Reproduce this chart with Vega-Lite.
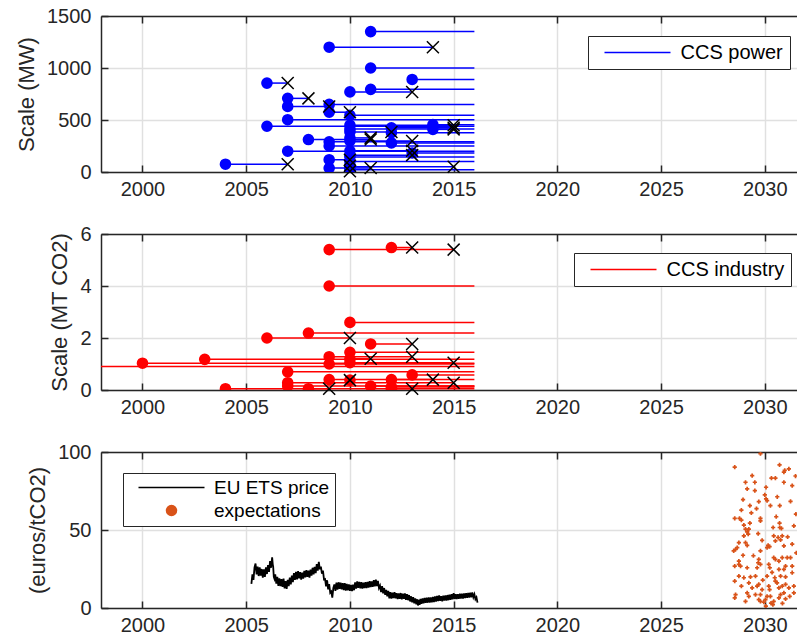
{
  "$schema": "https://vega.github.io/schema/vega-lite/v6.json",
  "padding": {"left": 15, "top": 6, "right": 0, "bottom": 0},
  "bounds": "flush",
  "spacing": 62,
  "datasets": {
    "power": [
      {"start":2004,"end":2007,"v":75,"ended":true},
      {"start":2006,"end":2007,"v":855,"ended":true},
      {"start":2006,"end":2016,"v":440,"ended":false},
      {"start":2007,"end":2008,"v":708,"ended":true},
      {"start":2007,"end":2009,"v":630,"ended":true},
      {"start":2007,"end":2016,"v":503,"ended":false},
      {"start":2007,"end":2016,"v":200,"ended":false},
      {"start":2008,"end":2011,"v":312,"ended":true},
      {"start":2009,"end":2014,"v":1200,"ended":true},
      {"start":2009,"end":2016,"v":650,"ended":false},
      {"start":2009,"end":2010,"v":575,"ended":true},
      {"start":2009,"end":2016,"v":290,"ended":false},
      {"start":2009,"end":2016,"v":250,"ended":false},
      {"start":2009,"end":2010,"v":118,"ended":true},
      {"start":2009,"end":2011,"v":38,"ended":true},
      {"start":2010,"end":2013,"v":770,"ended":true},
      {"start":2010,"end":2016,"v":545,"ended":false},
      {"start":2010,"end":2015,"v":450,"ended":true},
      {"start":2010,"end":2016,"v":413,"ended":false},
      {"start":2010,"end":2012,"v":385,"ended":true},
      {"start":2010,"end":2011,"v":328,"ended":true},
      {"start":2010,"end":2013,"v":298,"ended":true},
      {"start":2010,"end":2013,"v":204,"ended":true},
      {"start":2010,"end":2013,"v":162,"ended":true},
      {"start":2010,"end":2016,"v":145,"ended":false},
      {"start":2010,"end":2016,"v":100,"ended":false},
      {"start":2010,"end":2015,"v":50,"ended":true},
      {"start":2010,"end":2010,"v":60,"ended":true},
      {"start":2010,"end":2016,"v":22,"ended":false},
      {"start":2010,"end":2010,"v":8,"ended":true},
      {"start":2011,"end":2016,"v":1350,"ended":false},
      {"start":2011,"end":2016,"v":1000,"ended":false},
      {"start":2011,"end":2016,"v":795,"ended":false},
      {"start":2012,"end":2015,"v":425,"ended":true},
      {"start":2012,"end":2016,"v":378,"ended":false},
      {"start":2012,"end":2016,"v":280,"ended":false},
      {"start":2013,"end":2016,"v":890,"ended":false},
      {"start":2013,"end":2016,"v":183,"ended":false},
      {"start":2014,"end":2016,"v":455,"ended":false},
      {"start":2014,"end":2015,"v":410,"ended":true}
    ],
    "industry": [
      {"start":1996,"end":2016,"v":0.9,"ended":false},
      {"start":2000,"end":2016,"v":1.03,"ended":false},
      {"start":2003,"end":2016,"v":1.18,"ended":false},
      {"start":2004,"end":2009,"v":0.05,"ended":true},
      {"start":2006,"end":2010,"v":2.0,"ended":true},
      {"start":2007,"end":2016,"v":0.7,"ended":false},
      {"start":2007,"end":2015,"v":0.28,"ended":true},
      {"start":2007,"end":2016,"v":0.15,"ended":false},
      {"start":2008,"end":2016,"v":2.19,"ended":false},
      {"start":2008,"end":2016,"v":0.05,"ended":false},
      {"start":2009,"end":2015,"v":5.4,"ended":true},
      {"start":2009,"end":2016,"v":4.0,"ended":false},
      {"start":2009,"end":2013,"v":1.28,"ended":true},
      {"start":2009,"end":2016,"v":1.0,"ended":false},
      {"start":2009,"end":2014,"v":0.4,"ended":true},
      {"start":2010,"end":2016,"v":2.6,"ended":false},
      {"start":2010,"end":2016,"v":1.45,"ended":false},
      {"start":2010,"end":2011,"v":1.2,"ended":true},
      {"start":2010,"end":2015,"v":1.05,"ended":true},
      {"start":2010,"end":2010,"v":0.38,"ended":true},
      {"start":2011,"end":2013,"v":1.77,"ended":true},
      {"start":2011,"end":2016,"v":0.15,"ended":false},
      {"start":2012,"end":2013,"v":5.48,"ended":true},
      {"start":2012,"end":2016,"v":0.4,"ended":false},
      {"start":2012,"end":2013,"v":0.05,"ended":true},
      {"start":2012,"end":2016,"v":0.12,"ended":false},
      {"start":2013,"end":2016,"v":0.58,"ended":false}
    ],
    "ets": [
      {"t":2005.25,"p":15.5},{"t":2005.30,"p":21.5},{"t":2005.35,"p":18.0},{"t":2005.40,"p":26.0},{"t":2005.45,"p":28.5},
      {"t":2005.50,"p":21.5},{"t":2005.55,"p":26.5},{"t":2005.60,"p":20.5},{"t":2005.65,"p":26.0},{"t":2005.70,"p":20.8},
      {"t":2005.75,"p":25.0},{"t":2005.80,"p":19.5},{"t":2005.85,"p":24.8},{"t":2005.90,"p":20.0},{"t":2005.95,"p":26.0},
      {"t":2006.00,"p":21.8},{"t":2006.05,"p":27.5},{"t":2006.10,"p":23.2},{"t":2006.15,"p":30.0},{"t":2006.20,"p":25.8},
      {"t":2006.25,"p":32.5},{"t":2006.28,"p":28.0},{"t":2006.30,"p":26.5},{"t":2006.33,"p":20.0},{"t":2006.36,"p":18.8},
      {"t":2006.40,"p":21.5},{"t":2006.45,"p":15.6},{"t":2006.50,"p":20.0},{"t":2006.55,"p":14.2},{"t":2006.60,"p":19.0},
      {"t":2006.65,"p":14.0},{"t":2006.70,"p":18.5},{"t":2006.75,"p":13.6},{"t":2006.80,"p":18.8},{"t":2006.85,"p":12.6},
      {"t":2006.90,"p":17.3},{"t":2006.95,"p":12.2},{"t":2007.00,"p":18.0},{"t":2007.05,"p":14.0},{"t":2007.10,"p":19.5},
      {"t":2007.15,"p":15.2},{"t":2007.20,"p":20.8},{"t":2007.25,"p":16.6},{"t":2007.30,"p":22.4},{"t":2007.35,"p":18.0},
      {"t":2007.40,"p":23.1},{"t":2007.45,"p":18.4},{"t":2007.50,"p":23.6},{"t":2007.55,"p":19.0},{"t":2007.60,"p":23.0},
      {"t":2007.65,"p":18.2},{"t":2007.70,"p":22.7},{"t":2007.75,"p":18.8},{"t":2007.80,"p":23.8},{"t":2007.85,"p":19.6},
      {"t":2007.90,"p":24.3},{"t":2007.95,"p":20.0},{"t":2008.00,"p":23.9},{"t":2008.05,"p":19.4},{"t":2008.10,"p":24.6},
      {"t":2008.15,"p":20.7},{"t":2008.20,"p":25.8},{"t":2008.25,"p":21.6},{"t":2008.30,"p":26.4},{"t":2008.35,"p":22.4},
      {"t":2008.40,"p":28.1},{"t":2008.45,"p":23.9},{"t":2008.50,"p":29.5},{"t":2008.55,"p":24.8},{"t":2008.60,"p":26.6},
      {"t":2008.65,"p":22.0},{"t":2008.70,"p":24.0},{"t":2008.75,"p":18.3},{"t":2008.80,"p":18.6},{"t":2008.85,"p":13.8},
      {"t":2008.90,"p":17.8},{"t":2008.95,"p":12.0},{"t":2009.00,"p":15.3},{"t":2009.05,"p":9.8},{"t":2009.10,"p":10.6},
      {"t":2009.15,"p":6.6},{"t":2009.20,"p":12.8},{"t":2009.25,"p":15.1},{"t":2009.30,"p":11.0},{"t":2009.35,"p":16.3},
      {"t":2009.40,"p":11.8},{"t":2009.45,"p":16.5},{"t":2009.50,"p":12.2},{"t":2009.55,"p":16.2},{"t":2009.60,"p":12.0},
      {"t":2009.65,"p":16.0},{"t":2009.70,"p":11.4},{"t":2009.75,"p":15.9},{"t":2009.80,"p":11.2},{"t":2009.85,"p":15.4},
      {"t":2009.90,"p":11.3},{"t":2009.95,"p":15.1},{"t":2010.00,"p":11.0},{"t":2010.05,"p":14.8},{"t":2010.10,"p":10.8},
      {"t":2010.15,"p":15.0},{"t":2010.20,"p":11.4},{"t":2010.25,"p":16.4},{"t":2010.30,"p":12.5},{"t":2010.35,"p":17.1},
      {"t":2010.40,"p":12.9},{"t":2010.45,"p":16.8},{"t":2010.50,"p":12.6},{"t":2010.55,"p":16.5},{"t":2010.60,"p":12.4},
      {"t":2010.65,"p":16.2},{"t":2010.70,"p":12.8},{"t":2010.75,"p":16.6},{"t":2010.80,"p":12.7},{"t":2010.85,"p":16.8},
      {"t":2010.90,"p":13.1},{"t":2010.95,"p":17.2},{"t":2011.00,"p":13.4},{"t":2011.05,"p":17.1},{"t":2011.10,"p":13.6},
      {"t":2011.15,"p":17.8},{"t":2011.20,"p":13.9},{"t":2011.25,"p":18.2},{"t":2011.30,"p":14.1},{"t":2011.35,"p":17.4},
      {"t":2011.40,"p":12.8},{"t":2011.45,"p":14.3},{"t":2011.50,"p":10.2},{"t":2011.55,"p":14.0},{"t":2011.60,"p":9.4},
      {"t":2011.65,"p":12.8},{"t":2011.70,"p":8.4},{"t":2011.75,"p":11.6},{"t":2011.80,"p":7.4},{"t":2011.85,"p":11.0},
      {"t":2011.90,"p":6.2},{"t":2011.95,"p":10.1},{"t":2012.00,"p":6.0},{"t":2012.05,"p":9.8},{"t":2012.10,"p":6.3},
      {"t":2012.15,"p":10.2},{"t":2012.20,"p":6.2},{"t":2012.25,"p":9.5},{"t":2012.30,"p":5.7},{"t":2012.35,"p":9.3},
      {"t":2012.40,"p":5.8},{"t":2012.45,"p":9.6},{"t":2012.50,"p":5.6},{"t":2012.55,"p":9.2},{"t":2012.60,"p":5.9},
      {"t":2012.65,"p":9.4},{"t":2012.70,"p":5.3},{"t":2012.75,"p":8.8},{"t":2012.80,"p":5.0},{"t":2012.85,"p":8.3},
      {"t":2012.90,"p":4.2},{"t":2012.95,"p":7.5},{"t":2013.00,"p":3.6},{"t":2013.05,"p":6.9},{"t":2013.10,"p":3.0},
      {"t":2013.15,"p":6.2},{"t":2013.20,"p":2.4},{"t":2013.25,"p":5.6},{"t":2013.28,"p":1.6},{"t":2013.32,"p":5.2},
      {"t":2013.36,"p":2.0},{"t":2013.40,"p":5.8},{"t":2013.45,"p":2.7},{"t":2013.50,"p":6.2},{"t":2013.55,"p":3.0},
      {"t":2013.60,"p":6.5},{"t":2013.65,"p":3.3},{"t":2013.70,"p":6.6},{"t":2013.75,"p":3.4},{"t":2013.80,"p":6.7},
      {"t":2013.85,"p":3.5},{"t":2013.90,"p":6.8},{"t":2013.95,"p":3.6},{"t":2014.00,"p":7.1},{"t":2014.05,"p":3.8},
      {"t":2014.10,"p":7.4},{"t":2014.15,"p":4.1},{"t":2014.20,"p":7.8},{"t":2014.25,"p":4.4},{"t":2014.30,"p":8.1},
      {"t":2014.35,"p":4.6},{"t":2014.40,"p":7.6},{"t":2014.45,"p":4.3},{"t":2014.50,"p":7.9},{"t":2014.55,"p":4.7},
      {"t":2014.60,"p":8.0},{"t":2014.65,"p":4.8},{"t":2014.70,"p":8.3},{"t":2014.75,"p":5.0},{"t":2014.80,"p":8.5},
      {"t":2014.85,"p":5.3},{"t":2014.90,"p":8.8},{"t":2014.95,"p":5.6},{"t":2015.00,"p":9.5},{"t":2015.05,"p":5.8},
      {"t":2015.10,"p":8.8},{"t":2015.15,"p":5.7},{"t":2015.20,"p":8.9},{"t":2015.25,"p":5.9},{"t":2015.30,"p":9.1},
      {"t":2015.35,"p":6.0},{"t":2015.40,"p":9.2},{"t":2015.45,"p":6.1},{"t":2015.50,"p":9.3},{"t":2015.55,"p":6.3},
      {"t":2015.60,"p":9.5},{"t":2015.65,"p":6.5},{"t":2015.70,"p":9.7},{"t":2015.75,"p":6.7},{"t":2015.80,"p":9.8},
      {"t":2015.85,"p":6.8},{"t":2015.90,"p":9.9},{"t":2015.95,"p":6.9},{"t":2016.00,"p":8.8},{"t":2016.05,"p":5.6},
      {"t":2016.10,"p":6.8},{"t":2016.15,"p":3.4}
    ],
    "expect": [
      {"t":2029.79,"p":98.9},{"t":2028.55,"p":90.3},{"t":2030.71,"p":91.8},{"t":2030.92,"p":87.1},{"t":2030.96,"p":88.2},
      {"t":2031.16,"p":89.2},{"t":2029.39,"p":84.9},{"t":2030.32,"p":83.2},{"t":2030.51,"p":83.2},{"t":2029.07,"p":80.6},
      {"t":2029.52,"p":80.6},{"t":2030.92,"p":80.6},{"t":2029.15,"p":76.3},{"t":2029.52,"p":75.3},{"t":2030.06,"p":77.4},
      {"t":2031.32,"p":78.5},{"t":2030.0,"p":72.5},{"t":2030.11,"p":68.8},{"t":2030.06,"p":69.9},{"t":2028.95,"p":69.5},
      {"t":2029.71,"p":68.2},{"t":2030.27,"p":65.6},{"t":2030.72,"p":65.6},{"t":2029.28,"p":65.6},{"t":2031.24,"p":68.4},
      {"t":2028.87,"p":62.8},{"t":2028.55,"p":57.4},{"t":2028.78,"p":57.4},{"t":2028.87,"p":56.3},{"t":2029.79,"p":57.4},
      {"t":2029.79,"p":55.9},{"t":2029.28,"p":54.4},{"t":2030.71,"p":54.4},{"t":2028.99,"p":53.1},{"t":2029.07,"p":50.5},
      {"t":2029.15,"p":48.8},{"t":2029.23,"p":50.5},{"t":2030.40,"p":51.6},{"t":2030.72,"p":51.6},{"t":2030.80,"p":51.0},
      {"t":2031.40,"p":52.7},{"t":2029.68,"p":47.7},{"t":2028.99,"p":46.2},{"t":2029.20,"p":47.3},{"t":2030.43,"p":46.2},
      {"t":2030.64,"p":45.2},{"t":2030.84,"p":46.2},{"t":2028.75,"p":41.9},{"t":2029.07,"p":41.9},{"t":2029.15,"p":40.2},
      {"t":2029.87,"p":43.4},{"t":2030.16,"p":40.2},{"t":2030.23,"p":39.4},{"t":2030.11,"p":38.7},{"t":2030.51,"p":43.0},
      {"t":2030.76,"p":43.7},{"t":2030.92,"p":39.8},{"t":2031.32,"p":40.9},{"t":2028.59,"p":37.6},{"t":2028.67,"p":38.7},
      {"t":2028.50,"p":36.6},{"t":2029.79,"p":36.6},{"t":2030.43,"p":32.3},{"t":2030.51,"p":31.2},{"t":2030.68,"p":30.1},
      {"t":2030.84,"p":32.3},{"t":2031.08,"p":32.3},{"t":2031.24,"p":32.3},{"t":2029.71,"p":31.2},{"t":2029.68,"p":29.0},
      {"t":2028.75,"p":30.1},{"t":2028.75,"p":28.0},{"t":2028.55,"p":26.9},{"t":2028.83,"p":26.9},{"t":2029.15,"p":25.8},
      {"t":2029.63,"p":25.8},{"t":2029.79,"p":28.0},{"t":2030.19,"p":28.0},{"t":2030.24,"p":25.8},{"t":2030.68,"p":24.7},
      {"t":2030.92,"p":24.7},{"t":2031.0,"p":26.9},{"t":2031.32,"p":26.9},{"t":2028.75,"p":20.4},{"t":2028.99,"p":19.4},
      {"t":2029.31,"p":20.0},{"t":2029.55,"p":20.4},{"t":2030.11,"p":20.4},{"t":2030.48,"p":19.4},{"t":2030.51,"p":17.2},
      {"t":2030.59,"p":16.1},{"t":2030.76,"p":20.4},{"t":2031.0,"p":20.0},{"t":2031.32,"p":22.6},{"t":2028.55,"p":17.2},
      {"t":2028.87,"p":14.0},{"t":2029.23,"p":16.1},{"t":2029.39,"p":12.9},{"t":2029.63,"p":14.0},{"t":2029.71,"p":15.1},
      {"t":2029.87,"p":11.8},{"t":2030.19,"p":14.0},{"t":2030.23,"p":11.8},{"t":2030.68,"p":12.9},{"t":2030.84,"p":14.0},
      {"t":2031.0,"p":15.1},{"t":2031.16,"p":12.9},{"t":2031.40,"p":14.0},{"t":2028.59,"p":8.6},{"t":2028.55,"p":6.5},
      {"t":2029.15,"p":9.7},{"t":2029.23,"p":7.5},{"t":2029.55,"p":8.6},{"t":2029.79,"p":8.6},{"t":2030.11,"p":7.5},
      {"t":2030.27,"p":7.5},{"t":2030.76,"p":8.6},{"t":2030.92,"p":9.7},{"t":2031.40,"p":9.7},{"t":2029.07,"p":4.3},
      {"t":2029.71,"p":5.4},{"t":2029.79,"p":4.3},{"t":2030.03,"p":5.4},{"t":2030.43,"p":4.3},{"t":2030.39,"p":2.2},
      {"t":2030.68,"p":6.5},{"t":2031.0,"p":5.8},{"t":2029.95,"p":3.7},{"t":2030.05,"p":1.2},{"t":2030.30,"p":3.1},
      {"t":2029.45,"p":33.5},{"t":2029.35,"p":61.0},{"t":2030.55,"p":58.5},{"t":2031.50,"p":60.2},{"t":2031.52,"p":35.4},
      {"t":2031.48,"p":84.6},{"t":2030.35,"p":22.8},{"t":2029.90,"p":17.9},{"t":2030.85,"p":3.0},{"t":2031.20,"p":7.4},
      {"t":2028.95,"p":33.8},{"t":2030.60,"p":71.3},{"t":2029.60,"p":63.7},{"t":2031.10,"p":45.6}
    ]
  },
  "resolve": {"scale": {"color": "independent"}, "legend": {"color": "independent"}},
  "vconcat": [
    {
      "width": 697, "height": 156,
      "data": {"name": "power"},
      "resolve": {"axis": {"x": "independent"}},
      "layer": [
        {
          "mark": {"type": "rule", "strokeWidth": 1.5, "clip": true},
          "encoding": {
            "x": {"field": "start", "type": "quantitative", "scale": {"domain": [1998, 2031.6], "nice": false, "zero": false},
                  "axis": {"values": [2000, 2005, 2010, 2015, 2020, 2025, 2030], "format": "d", "grid": true, "title": null}},
            "x2": {"field": "end"},
            "y": {"field": "v", "type": "quantitative", "scale": {"domain": [0, 1500], "nice": false},
                  "axis": {"values": [0, 500, 1000, 1500], "format": "d", "grid": true, "title": "Scale (MW)"}},
            "color": {"datum": "CCS power", "type": "nominal", "scale": {"range": ["#0000ff"]},
                      "legend": {"orient": "none", "legendX": 487, "legendY": 20, "title": null, "strokeColor": "#262626", "fillColor": "white",
                                 "padding": 6.5, "labelFont": "Liberation Sans", "labelFontSize": 20, "labelColor": "black",
                                 "symbolType": "M-6.6,0L6.6,0", "symbolSize": 100, "symbolStrokeWidth": 1.5, "symbolOffset": 33, "labelOffset": 33}}
          }
        },
        {
          "mark": {"type": "point", "shape": "circle", "filled": true, "size": 135, "opacity": 1, "color": "#0000ff", "clip": true},
          "encoding": {
            "x": {"field": "start", "type": "quantitative", "axis": null},
            "y": {"field": "v", "type": "quantitative"}
          }
        },
        {
          "transform": [{"filter": "datum.ended"}],
          "mark": {"type": "point", "shape": "M-1,-1L1,1M-1,1L1,-1", "filled": false, "size": 144, "strokeWidth": 1.5, "color": "black", "opacity": 1},
          "encoding": {
            "x": {"field": "end", "type": "quantitative",
                  "axis": {"orient": "top", "values": [2000, 2005, 2010, 2015, 2020, 2025, 2030], "labels": false, "grid": false, "title": null}},
            "y": {"field": "v", "type": "quantitative"}
          }
        }
      ]
    },
    {
      "width": 697, "height": 156,
      "data": {"name": "industry"},
      "resolve": {"axis": {"x": "independent"}},
      "layer": [
        {
          "mark": {"type": "rule", "strokeWidth": 1.5, "clip": true},
          "encoding": {
            "x": {"field": "start", "type": "quantitative", "scale": {"domain": [1998, 2031.6], "nice": false, "zero": false},
                  "axis": {"values": [2000, 2005, 2010, 2015, 2020, 2025, 2030], "format": "d", "grid": true, "title": null}},
            "x2": {"field": "end"},
            "y": {"field": "v", "type": "quantitative", "scale": {"domain": [0, 6], "nice": false},
                  "axis": {"values": [0, 2, 4, 6], "grid": true, "title": "Scale (MT CO2)"}},
            "color": {"datum": "CCS industry", "type": "nominal", "scale": {"range": ["#ff0000"]},
                      "legend": {"orient": "none", "legendX": 473, "legendY": 19, "title": null, "strokeColor": "#262626", "fillColor": "white",
                                 "padding": 6.5, "labelFont": "Liberation Sans", "labelFontSize": 20, "labelColor": "black",
                                 "symbolType": "M-6.6,0L6.6,0", "symbolSize": 100, "symbolStrokeWidth": 1.5, "symbolOffset": 33, "labelOffset": 33}}
          }
        },
        {
          "mark": {"type": "point", "shape": "circle", "filled": true, "size": 135, "opacity": 1, "color": "#ff0000", "clip": true},
          "encoding": {
            "x": {"field": "start", "type": "quantitative", "axis": null},
            "y": {"field": "v", "type": "quantitative"}
          }
        },
        {
          "transform": [{"filter": "datum.ended"}],
          "mark": {"type": "point", "shape": "M-1,-1L1,1M-1,1L1,-1", "filled": false, "size": 144, "strokeWidth": 1.5, "color": "black", "opacity": 1},
          "encoding": {
            "x": {"field": "end", "type": "quantitative",
                  "axis": {"orient": "top", "values": [2000, 2005, 2010, 2015, 2020, 2025, 2030], "labels": false, "grid": false, "title": null}},
            "y": {"field": "v", "type": "quantitative"}
          }
        }
      ]
    },
    {
      "width": 697, "height": 156,
      "resolve": {"axis": {"x": "independent"}},
      "layer": [
        {
          "data": {"name": "ets"},
          "mark": {"type": "line", "strokeWidth": 1.8, "clip": true},
          "encoding": {
            "x": {"field": "t", "type": "quantitative", "scale": {"domain": [1998, 2031.6], "nice": false, "zero": false},
                  "axis": {"values": [2000, 2005, 2010, 2015, 2020, 2025, 2030], "format": "d", "grid": true, "title": null}},
            "y": {"field": "p", "type": "quantitative", "scale": {"domain": [0, 100], "nice": false},
                  "axis": {"values": [0, 50, 100], "grid": true, "title": "(euros/tCO2)"}},
            "color": {"datum": "EU ETS price", "type": "nominal",
                      "scale": {"domain": ["EU ETS price", "expectations"], "range": ["black", "#D95319"]},
                      "legend": {"orient": "none", "legendX": 22, "legendY": 21, "title": null, "strokeColor": "#262626", "fillColor": "white",
                                 "padding": 5, "labelFont": "Liberation Sans", "labelFontSize": 19, "labelColor": "black", "rowPadding": 3,
                                 "symbolSize": 100, "symbolOffset": 34, "labelOffset": 33,
                                 "encode": {"symbols": {"update": {
                                   "shape": {"signal": "datum.value === 'EU ETS price' ? 'M-6.6,0L6.6,0' : 'circle'"},
                                   "fill": {"signal": "datum.value === 'EU ETS price' ? 'transparent' : '#D95319'"},
                                   "stroke": {"signal": "datum.value === 'EU ETS price' ? 'black' : 'transparent'"},
                                   "strokeWidth": {"value": 1.5},
                                   "opacity": {"value": 1}
                                 }}}}}
          }
        },
        {
          "data": {"name": "expect"},
          "mark": {"type": "point", "shape": "cross", "filled": true, "size": 18, "opacity": 1, "clip": true},
          "encoding": {
            "x": {"field": "t", "type": "quantitative",
                  "axis": {"orient": "top", "values": [2000, 2005, 2010, 2015, 2020, 2025, 2030], "labels": false, "grid": false, "title": null}},
            "y": {"field": "p", "type": "quantitative"},
            "color": {"datum": "expectations", "type": "nominal"}
          }
        }
      ]
    }
  ],
  "config": {
    "view": {"stroke": null},
    "font": "Liberation Sans",
    "axis": {
      "domainColor": "#262626", "domainWidth": 1.5,
      "tickColor": "#262626", "tickWidth": 1.5, "tickSize": -7,
      "labelFont": "Liberation Sans", "labelFontSize": 20, "labelColor": "#262626",
      "labelFlush": false, "labelOverlap": false,
      "titleFont": "Liberation Sans", "titleFontSize": 22, "titleFontWeight": "normal", "titleColor": "#262626", "titlePadding": 8,
      "gridColor": "#e0e0e0", "gridWidth": 1.5
    },
    "axisX": {"labelPadding": 14},
    "axisY": {"labelPadding": 17}
  }
}
